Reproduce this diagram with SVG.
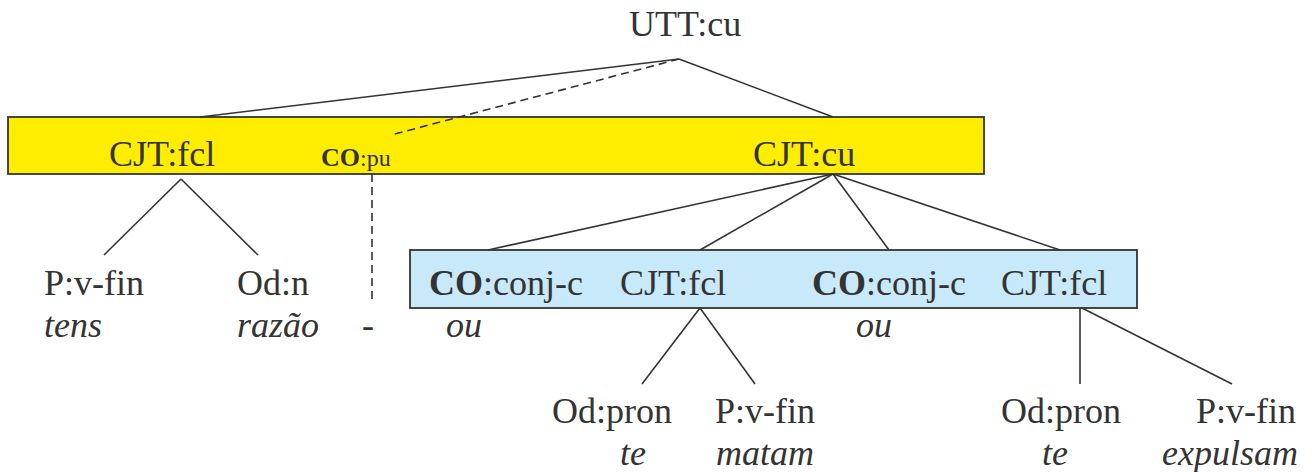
<svg xmlns="http://www.w3.org/2000/svg" width="1316" height="472" viewBox="0 0 1316 472">
<style>
.it{font-style:italic}
.b{font-weight:bold}
.ln{stroke:#333;stroke-width:1.6;fill:none}
.dash{stroke-dasharray:8,5}
.box{stroke:#333;stroke-width:1.8}
</style>
<rect width="1316" height="472" fill="#fff"/>
<g id="boxes">
<rect class="box" x="8" y="117" width="976" height="57" fill="#FFED00"/>
<rect class="box" x="410" y="250" width="727" height="58" fill="#C8E9F9"/>
</g>
<g id="connectors">
<line class="ln" x1="679" y1="59" x2="200" y2="117"/>
<line class="ln dash" x1="679" y1="59" x2="391" y2="135"/>
<line class="ln" x1="679" y1="59" x2="833" y2="117"/>
<line class="ln" x1="181" y1="179" x2="104" y2="255"/>
<line class="ln" x1="181" y1="179" x2="258" y2="255"/>
<line class="ln dash" x1="372" y1="174" x2="372" y2="304"/>
<line class="ln" x1="833" y1="174" x2="488" y2="250"/>
<line class="ln" x1="833" y1="174" x2="700" y2="250"/>
<line class="ln" x1="833" y1="174" x2="889" y2="250"/>
<line class="ln" x1="833" y1="174" x2="1060" y2="250"/>
<line class="ln" x1="700" y1="308" x2="642" y2="384"/>
<line class="ln" x1="700" y1="308" x2="755" y2="384"/>
<line class="ln" x1="1080" y1="308" x2="1080" y2="384"/>
<line class="ln" x1="1082" y1="308" x2="1232" y2="384"/>
</g>
<g id="labels" font-family="Times New Roman, Tinos, Liberation Serif, serif" font-size="36" fill="#333">
<g id="utt"><text x="629" y="36">UTT:cu</text></g>
<g id="cjt-fcl-1"><text x="109" y="166">CJT:fcl</text></g>
<g id="co-pu"><text x="321" y="166"><tspan class="b" font-size="26">CO</tspan><tspan font-size="24">:pu</tspan></text></g>
<g id="cjt-cu"><text x="753" y="166">CJT:cu</text></g>
<g id="p-vfin-1"><text x="44" y="295">P:v-fin</text><text class="it" x="44" y="337">tens</text></g>
<g id="od-n"><text x="237" y="295">Od:n</text><text class="it" x="237" y="337">razão</text></g>
<g id="dash-word"><text class="it" x="362" y="337">-</text></g>
<g id="co-conj-1"><text x="429" y="295"><tspan class="b">CO</tspan>:conj-c</text><text class="it" x="446" y="337">ou</text></g>
<g id="cjt-fcl-2"><text x="620" y="295">CJT:fcl</text></g>
<g id="co-conj-2"><text x="812" y="295"><tspan class="b">CO</tspan>:conj-c</text><text class="it" x="856" y="337">ou</text></g>
<g id="cjt-fcl-3"><text x="1001" y="295">CJT:fcl</text></g>
<g id="od-pron-1"><text x="552" y="423">Od:pron</text><text class="it" x="620" y="465">te</text></g>
<g id="p-vfin-2"><text x="715" y="423">P:v-fin</text><text class="it" x="716" y="465">matam</text></g>
<g id="od-pron-2"><text x="1001" y="423">Od:pron</text><text class="it" x="1042" y="465">te</text></g>
<g id="p-vfin-3"><text x="1196" y="423">P:v-fin</text><text class="it" x="1162" y="465">expulsam</text></g>
</g>
</svg>
